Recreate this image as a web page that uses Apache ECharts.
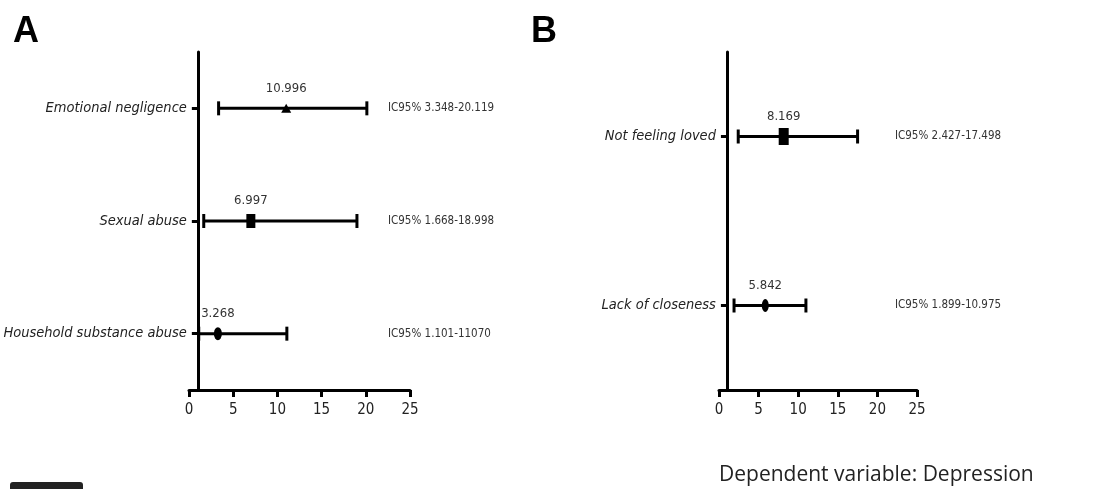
<!DOCTYPE html>
<html>
<head>
<meta charset="utf-8">
<script src="https://cdn.jsdelivr.net/npm/echarts@6/dist/echarts.min.js"></script>
<style>html,body{margin:0;padding:0;background:#fff}#c{width:1108px;height:489px}</style>
</head>
<body>
<div id="c"></div>
<script>
// ---- Data ----
const catsA = ['Emotional negligence', 'Sexual abuse', 'Household substance abuse'];
const orA = [10.996, 6.997, 3.268];
const lowA = [3.348, 1.668, 1.101];
const highA = [20.119, 18.998, 11.070];
const ciLabelsA = ['IC95% 3.348-20.119', 'IC95% 1.668-18.998', 'IC95% 1.101-11070'];

const catsB = ['Not feeling loved', 'Lack of closeness'];
const orB = [8.169, 5.842];
const lowB = [2.427, 1.899];
const highB = [17.498, 10.975];
const ciLabelsB = ['IC95% 2.427-17.498', 'IC95% 1.899-10.975'];

const xTicks = [0, 5, 10, 15, 20, 25];

// ---- Styles ----
const NARROW = "'DejaVu Sans Condensed','Liberation Sans Narrow','Arial Narrow',sans-serif";
const markersA = [{s: 'triangle', size: [10, 9]}, {s: 'rect', size: [9, 14]}, {s: 'circle', size: [8, 13]}];
const markersB = [{s: 'rect', size: [10, 17]}, {s: 'circle', size: [7, 13]}];

const grids = [
  {left: 189, width: 221, top: 52, bottom: 99, containLabel: false, outerBoundsMode: 'none'},
  {left: 719, width: 198, top: 52, bottom: 99, containLabel: false, outerBoundsMode: 'none'}
];

function xAxisFor(i) {
  return {
    type: 'value', gridIndex: i, min: xTicks[0], max: xTicks[xTicks.length - 1], interval: 5,
    axisLine: {show: true, lineStyle: {color: '#000', width: 3}},
    axisTick: {show: true, length: 7, lineStyle: {color: '#000', width: 3}},
    axisLabel: {show: true, margin: 13, color: '#222', fontFamily: NARROW, fontSize: 15},
    splitLine: {show: false}
  };
}
function yAxisLeft(i, cats, grid) {
  return {
    type: 'category', gridIndex: i, data: cats, inverse: true,
    offset: -(grid.width / 25),
    axisLine: {show: true, onZero: false, lineStyle: {color: '#000', width: 3}},
    axisTick: {show: true, alignWithLabel: true, length: 6, lineStyle: {color: '#000', width: 3}},
    axisLabel: {margin: 11, color: '#222', fontFamily: NARROW, fontStyle: 'italic', fontSize: 14.5},
    splitLine: {show: false}
  };
}
function yAxisRight(i, labels) {
  return {
    type: 'category', gridIndex: i, data: labels, inverse: true, position: 'right', offset: -30,
    axisLine: {show: false}, axisTick: {show: false},
    axisLabel: {margin: 8, align: 'left', color: '#333', fontFamily: NARROW, fontSize: 11.5},
    splitLine: {show: false}
  };
}

function errorSeries(xi, yi, low, high) {
  return {
    type: 'custom', xAxisIndex: xi, yAxisIndex: yi, z: 2,
    data: low.map((l, k) => [l, high[k], k]),
    encode: {x: [0, 1], y: 2},
    renderItem: function (params, api) {
      const p1 = api.coord([api.value(0), api.value(2)]);
      const p2 = api.coord([api.value(1), api.value(2)]);
      const h = 7;
      const st = {stroke: '#000', lineWidth: 3};
      return {type: 'group', children: [
        {type: 'line', shape: {x1: p1[0], y1: p1[1], x2: p2[0], y2: p2[1]}, style: st},
        {type: 'line', shape: {x1: p1[0], y1: p1[1] - h, x2: p1[0], y2: p1[1] + h}, style: st},
        {type: 'line', shape: {x1: p2[0], y1: p2[1] - h, x2: p2[0], y2: p2[1] + h}, style: st}
      ]};
    }
  };
}
function pointSeries(xi, yi, cats, vals, markers) {
  return {
    type: 'scatter', xAxisIndex: xi, yAxisIndex: yi, z: 3,
    data: vals.map((v, k) => ({
      value: [v, cats[k]], symbol: markers[k].s, symbolSize: markers[k].size
    })),
    itemStyle: {color: '#000', opacity: 1},
    label: {
      show: true, position: 'inside', offset: [0, -20], color: '#333',
      fontFamily: NARROW, fontSize: 13,
      formatter: p => p.value[0].toFixed(3)
    },
    emphasis: {disabled: true}
  };
}

const option = {
  animation: false,
  backgroundColor: '#fff',
  grid: grids,
  xAxis: [xAxisFor(0), xAxisFor(1)],
  yAxis: [yAxisLeft(0, catsA, grids[0]), yAxisRight(0, ciLabelsA), yAxisLeft(1, catsB, grids[1]), yAxisRight(1, ciLabelsB)],
  series: [
    errorSeries(0, 0, lowA, highA),
    pointSeries(0, 0, catsA, orA, markersA),
    errorSeries(1, 2, lowB, highB),
    pointSeries(1, 2, catsB, orB, markersB)
  ],
  graphic: [
    {type: 'text', left: 13, top: 14, style: {text: 'A', font: "bold 36px 'Liberation Sans',Arial,sans-serif", fill: '#000'}},
    {type: 'text', left: 531, top: 14, style: {text: 'B', font: "bold 36px 'Liberation Sans',Arial,sans-serif", fill: '#000'}},
    {type: 'text', left: 719, top: 465, style: {text: 'Dependent variable: Depression', font: "21px 'Open Sans',sans-serif", fill: '#222'}},
    {type: 'rect', left: 10, top: 482, shape: {width: 73, height: 14, r: 3}, style: {fill: '#222'}}
  ]
};

const chart = echarts.init(document.getElementById('c'), null, {renderer: 'canvas'});
chart.setOption(option);
</script>
</body>
</html>
